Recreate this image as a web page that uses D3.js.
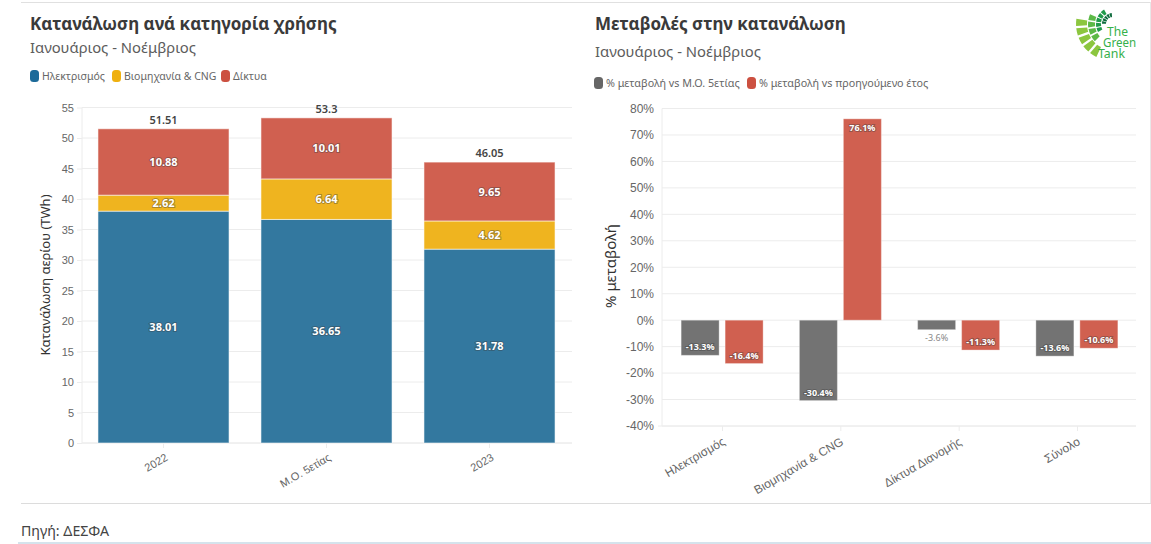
<!DOCTYPE html>
<html>
<head>
<meta charset="utf-8">
<script src="https://cdn.jsdelivr.net/npm/d3@7/dist/d3.min.js"></script>
<style>
  html, body { margin: 0; padding: 0; background: #fff; overflow: hidden; }
  svg { display: block; font-family: "Noto Sans", sans-serif; }
  .grid line, .axis line, .axis path { stroke: #ececec; }
  .axis text { fill: #666; font-size: 11px; }
  .axisRight text { font-size: 12px; }
  .label { fill: #fff; font-weight: 700; text-anchor: middle; paint-order: stroke; stroke: rgba(60,60,60,.4); stroke-width: 2px; }
</style>
</head>
<body>
<svg id="chart" width="1151" height="544"></svg>
<script>
const years = ['2022', 'Μ.Ο. 5ετίας', '2023'];
const usageKeys = ['Ηλεκτρισμός', 'Βιομηχανία & CNG', 'Δίκτυα'];
const electricity = [38.01, 36.65, 31.78];
const industry = [2.62, 6.64, 4.62];
const networks = [10.88, 10.01, 9.65];
const totals = [51.51, 53.3, 46.05];
const usageTicks = d3.range(0, 60, 5);

const changeCats = ['Ηλεκτρισμός', 'Βιομηχανία & CNG', 'Δίκτυα Διανομής', 'Σύνολο'];
const changeKeys = ['% μεταβολή vs Μ.Ο. 5ετίας', '% μεταβολή vs προηγούμενο έτος'];
const vsAverage = [-13.3, -30.4, -3.6, -13.6];
const vsPrevious = [-16.4, 76.1, -11.3, -10.6];
const changeTicks = d3.range(-40, 90, 10);

const svg = d3.select('#chart');
const blue = '#33789f', yellow = '#efb41f', red = '#d06050', grey = '#737373';

// page rules
svg.append('line').attr('x1', 21).attr('x2', 1151).attr('y1', 2.5).attr('y2', 2.5).attr('stroke', '#e0e0e0');
svg.append('line').attr('x1', 21).attr('x2', 1151).attr('y1', 503.5).attr('y2', 503.5).attr('stroke', '#dcdcdc');
svg.append('line').attr('x1', 1150.5).attr('x2', 1150.5).attr('y1', 2).attr('y2', 503).attr('stroke', '#e8e8e8');
svg.append('rect').attr('x', 18).attr('y', 542).attr('width', 1133).attr('height', 2).attr('fill', '#d5e3ec');

function heading(x, y1, y2, title, sub) {
  svg.append('text').attr('x', x).attr('y', y1).attr('font-size', 17).attr('font-weight', 700).attr('fill', '#3a3a3a').text(title);
  svg.append('text').attr('x', x).attr('y', y2).attr('font-size', 14.8).attr('fill', '#5c5c5c').text(sub);
}
heading(30, 30, 53, 'Κατανάλωση ανά κατηγορία χρήσης', 'Ιανουάριος - Νοέμβριος');
heading(595, 30, 57, 'Μεταβολές στην κατανάλωση', 'Ιανουάριος - Νοέμβριος');

function legend(items, y, size) {
  items.forEach(d => {
    svg.append('rect').attr('x', d.x).attr('y', y - 6).attr('width', 9).attr('height', 12).attr('rx', 3.5).attr('fill', d.color);
    svg.append('text').attr('x', d.x + 12).attr('y', y + 4).attr('font-size', size).attr('fill', '#666').text(d.name);
  });
}
legend([
  { name: usageKeys[0], x: 30, color: '#1c6a99' },
  { name: usageKeys[1], x: 112, color: '#efb00f' },
  { name: usageKeys[2], x: 221, color: '#cc5040' }
], 76, 10.5);
legend([
  { name: changeKeys[0], x: 594, color: '#666' },
  { name: changeKeys[1], x: 747, color: '#cc5040' }
], 83, 10.75);

// left chart
const xUse = d3.scaleBand().domain(years).range([82, 571]).paddingInner(0.196).paddingOuter(0.098);
const yUse = d3.scaleLinear().domain([0, 55]).range([443, 107.5]);

const g1 = svg.append('g');
g1.append('g').attr('class', 'grid').selectAll('line').data(usageTicks).join('line')
  .attr('x1', 82).attr('x2', 572).attr('y1', d => yUse(d)).attr('y2', d => yUse(d));
g1.append('g').attr('class', 'axis').attr('transform', 'translate(82,0)')
  .call(d3.axisLeft(yUse).tickValues(usageTicks).tickSize(5).tickPadding(3))
  .select('.domain').attr('d', `M0,${yUse(55)}V${yUse(0)}`);

const xAxis1 = g1.append('g').attr('class', 'axis').attr('transform', 'translate(0,443)')
  .call(d3.axisBottom(d3.scalePoint().domain(years).range([163, 489])).tickSize(5).tickPadding(8));
xAxis1.select('.domain').attr('d', 'M82,0H572');
xAxis1.selectAll('text').attr('text-anchor', 'end').attr('font-size', 11)
  .attr('transform', 'rotate(-30)').attr('dx', -4).attr('dy', 4);

const rows = years.map((y, i) => ({ year: y, [usageKeys[0]]: electricity[i], [usageKeys[1]]: industry[i], [usageKeys[2]]: networks[i], total: totals[i] }));
const stacked = d3.stack().keys(usageKeys)(rows);
const useColors = d3.scaleOrdinal(usageKeys, [blue, yellow, red]);

stacked.forEach((layer, k) => {
  const vals = [electricity, industry, networks][k];
  const g = g1.append('g');
  g.selectAll('rect').data(layer).join('rect')
    .attr('x', d => xUse(d.data.year)).attr('width', xUse.bandwidth())
    .attr('y', d => yUse(d[1])).attr('height', d => yUse(d[0]) - yUse(d[1]))
    .attr('fill', useColors(layer.key)).attr('stroke', '#fff').attr('stroke-opacity', 0.55).attr('stroke-width', 1);
  g.selectAll('text').data(layer).join('text').attr('class', 'label').attr('font-size', 11)
    .attr('x', d => xUse(d.data.year) + xUse.bandwidth() / 2)
    .attr('y', d => (yUse(d[0]) + yUse(d[1])) / 2 + 4)
    .text((d, i) => vals[i]);
});
g1.append('g').selectAll('text').data(rows).join('text')
  .attr('x', d => xUse(d.year) + xUse.bandwidth() / 2).attr('y', d => yUse(d.total) - 5)
  .attr('text-anchor', 'middle').attr('font-size', 11).attr('font-weight', 600).attr('fill', '#444')
  .text(d => d.total);
svg.append('text').attr('transform', 'translate(50,275) rotate(-90)').attr('text-anchor', 'middle')
  .attr('font-size', 13).attr('fill', '#333').text('Κατανάλωση αερίου (TWh)');

// right chart
const xChg = d3.scaleBand().domain(changeCats).range([663, 1136]);
const xInner = d3.scaleBand().domain(changeKeys).range([0, 82]).paddingInner(0.136);
const yChg = d3.scaleLinear().domain([-40, 80]).range([426, 108.5]);

const g2 = svg.append('g');
g2.append('g').attr('class', 'grid').selectAll('line').data(changeTicks).join('line')
  .attr('x1', 662).attr('x2', 1136).attr('y1', d => yChg(d)).attr('y2', d => yChg(d));
const yAxis2 = g2.append('g').attr('class', 'axis axisRight').attr('transform', 'translate(662,0)')
  .call(d3.axisLeft(yChg).tickValues(changeTicks).tickSize(0).tickPadding(8).tickFormat(d => d + '%'));
yAxis2.select('.domain').attr('d', `M0,${yChg(80)}V${yChg(-40)}`);

const xAxis2 = g2.append('g').attr('class', 'axis').attr('transform', 'translate(0,426)')
  .call(d3.axisBottom(d3.scalePoint().domain(changeCats).range([722, 1077])).tickSize(5).tickPadding(8));
xAxis2.select('.domain').attr('d', 'M658,0H1136');
xAxis2.selectAll('text').attr('text-anchor', 'end').style('font-size', '12px')
  .attr('transform', 'rotate(-30)').attr('dx', -6).attr('dy', 4.3);

const chgColors = d3.scaleOrdinal(changeKeys, [grey, red]);
[vsAverage, vsPrevious].forEach((vals, k) => {
  const key = changeKeys[k];
  const data = changeCats.map((c, i) => ({ cat: c, value: vals[i] }));
  const x = d => xChg(d.cat) + (xChg.bandwidth() - 82) / 2 + xInner(key);
  const g = g2.append('g');
  g.selectAll('rect').data(data).join('rect')
    .attr('x', x).attr('width', xInner.bandwidth())
    .attr('y', d => yChg(Math.max(0, d.value))).attr('height', d => Math.abs(yChg(d.value) - yChg(0)))
    .attr('fill', chgColors(key)).attr('stroke', '#fff').attr('stroke-opacity', 0.35);
  g.selectAll('text').data(data).join('text')
    .attr('class', d => Math.abs(d.value) < 5 ? null : 'label')
    .attr('text-anchor', 'middle')
    .attr('fill', d => Math.abs(d.value) < 5 ? '#888' : null)
    .attr('font-size', 9)
    .attr('x', d => x(d) + xInner.bandwidth() / 2)
    .attr('y', d => d.value > 0 ? yChg(d.value) + 12 : (Math.abs(d.value) < 5 ? yChg(d.value) + 11 : yChg(d.value) - 5))
    .text(d => d.value + '%');
});
svg.append('text').attr('transform', 'translate(616,266) rotate(-90)').attr('text-anchor', 'middle')
  .attr('font-size', 15).attr('fill', '#333').text('% μεταβολή');

svg.append('text').attr('x', 21).attr('y', 536).attr('font-size', 14.2).attr('fill', '#444').text('Πηγή: ΔΕΣΦΑ');

// logo
const logoRings = [
  { r: [7, 11], n: 5, color: '#0d6b3c', from: -5, to: -90 },
  { r: [12, 17], n: 5, color: '#1f9a4a', from: -30, to: -120 },
  { r: [18, 25], n: 4, color: '#5cb947', from: -65, to: -135 },
  { r: [26, 37], n: 5, color: '#8cc63f', from: -80, to: -155 }
];
const logo = svg.append('g').attr('transform', 'translate(1113,24)');
const arc = d3.arc().padAngle(0.05);
logoRings.forEach(ring => {
  const step = (ring.to - ring.from) / ring.n;
  d3.range(ring.n).forEach(i => {
    logo.append('path').attr('fill', ring.color).attr('d', arc({
      innerRadius: ring.r[0], outerRadius: ring.r[1],
      startAngle: (ring.from + i * step) * Math.PI / 180,
      endAngle: (ring.from + (i + 1) * step) * Math.PI / 180
    }));
  });
});
[['The', 1107, 36, 21], ['Green', 1103, 47, 33], ['Tank', 1098, 58, 27]].forEach(t => {
  svg.append('text').attr('x', t[1]).attr('y', t[2]).attr('font-size', 13)
    .attr('textLength', t[3]).attr('lengthAdjust', 'spacingAndGlyphs')
    .attr('fill', '#35b04a').text(t[0]);
});
</script>
</body>
</html>
